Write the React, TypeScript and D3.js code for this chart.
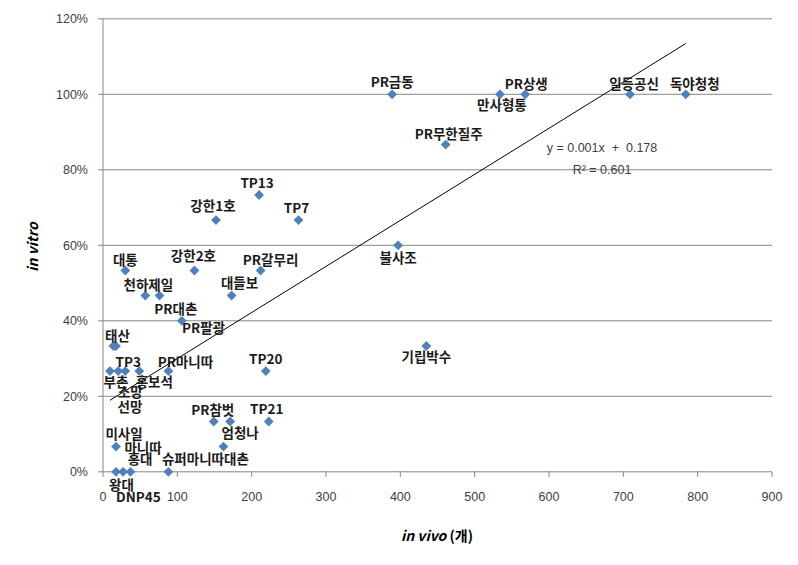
import React from "react";
import * as d3 from "d3";

// ---- data ----
const names = [
  "PR금동", "만사형통", "PR상생", "일등공신", "독야청청", "PR무한질주", "불사조", "기립박수",
  "TP20", "TP21", "PR참벗", "엄청나", "슈퍼마니따대촌", "DNP45", "대통", "강한2호", "PR갈무리",
  "천하제일", "PR팔광", "대들보", "PR대촌", "태산", "선망", "TP3", "부촌", "소망", "홍보석",
  "PR마니따", "미사일", "마니따", "홍대", "왕대", "강한1호", "TP13", "TP7",
];
const inVivo = [
  389, 534, 568, 709, 784, 461, 397, 435,
  219, 223, 149, 171, 162, 88, 30, 123, 212,
  57, 76, 173, 106, 14, 17.4, 30, 9.4, 20.6, 48.8,
  88, 17.5, 17.5, 27, 37, 152, 210, 263,
];
const inVitro = [
  1, 1, 1, 1, 1, 0.8667, 0.6, 0.3333,
  0.2667, 0.1333, 0.1333, 0.1333, 0.0667, 0, 0.5333, 0.5333, 0.5333,
  0.4667, 0.4667, 0.4667, 0.4, 0.3333, 0.3333, 0.2667, 0.2667, 0.2667, 0.2667,
  0.2667, 0.0667, 0, 0, 0, 0.6667, 0.7333, 0.6667,
];
const xTicks = [0, 100, 200, 300, 400, 500, 600, 700, 800, 900];
const yTicks = [0, 0.2, 0.4, 0.6, 0.8, 1.0, 1.2];
const trendSlope = 0.00122;
const trendIntercept = 0.178;
const equationText = "y = 0.001x  +  0.178";
const r2Text = "R² = 0.601";
const xTitleItalic = "in vivo";
const xTitleRest = " (개)";
const yTitle = "in vitro";

// ---- layout: label offsets relative to each marker (px) ----
const labelOffsets: Record<string, [number, number]> = {
  "PR금동": [0, -12], "만사형통": [2, 11], "PR상생": [1, -10], "일등공신": [4, -10],
  "독야청청": [9, -10], "PR무한질주": [3, -10], "불사조": [0, 13], "기립박수": [0, 11],
  "TP20": [0, -12], "TP21": [-2, -12], "PR참벗": [-1, -11], "엄청나": [10, 12],
  "슈퍼마니따대촌": [-18, 13], "DNP45": [-30, 25], "대통": [0, -10], "강한2호": [-1, -14],
  "PR갈무리": [10, -10], "천하제일": [3, -10], "PR팔광": [44, 33], "대들보": [8, -12],
  "PR대촌": [-6, -12], "태산": [4, -10], "선망": [14, 61], "TP3": [3, -9], "부촌": [6, 11],
  "소망": [12, 21], "홍보석": [15, 11], "PR마니따": [17, -9], "미사일": [8, -12],
  "마니따": [27, -24], "홍대": [17, -13], "왕대": [-9, 13], "강한1호": [-3, -14],
  "TP13": [-2, -12], "TP7": [-2, -12],
};

const W = 798;
const H = 565;

export default function App() {
  const x = d3.scaleLinear().domain([0, 900]).range([103, 772]);
  const y = d3.scaleLinear().domain([0, 1.2]).range([471.8, 18.8]);
  const pts = names.map((n, i) => ({ name: n, x: inVivo[i], y: inVitro[i] }));
  const diamond = d3.symbol().type(d3.symbolSquare).size(48)() as string;
  const xMin = d3.min(inVivo) as number;
  const xMax = d3.max(inVivo) as number;
  const trend = d3
    .line<number>()
    .x((v) => x(v))
    .y((v) => y(trendIntercept + trendSlope * v))([xMin, xMax]) as string;
  const grid = "#868686";
  const tickFont = "'Liberation Sans', Arial, sans-serif";
  const labelFont = "'Noto Sans CJK KR', 'Noto Sans', sans-serif";

  return (
    <svg
      width={W}
      height={H}
      style={{ position: "absolute", left: 0, top: 0, background: "#fff" }}
    >
      <rect x={0} y={0} width={W} height={H} fill="#fff" />
      {/* horizontal gridlines */}
      {yTicks.map((t) => (
        <line key={"g" + t} x1={x(0)} x2={x(900)} y1={y(t)} y2={y(t)} stroke={grid} strokeWidth={1} />
      ))}
      {/* y axis */}
      <line x1={x(0)} x2={x(0)} y1={y(0)} y2={y(1.2)} stroke={grid} strokeWidth={1} />
      {yTicks.map((t) => (
        <g key={"yt" + t}>
          <line x1={x(0) - 5} x2={x(0)} y1={y(t)} y2={y(t)} stroke={grid} />
          <text
            x={88}
            y={y(t)}
            dy="0.35em"
            textAnchor="end"
            fontFamily={tickFont}
            fontSize={12.5}
            fill="#404040"
          >
            {d3.format(".0%")(t)}
          </text>
        </g>
      ))}
      {/* x axis ticks */}
      {xTicks.map((t) => (
        <g key={"xt" + t}>
          <line x1={x(t)} x2={x(t)} y1={y(0)} y2={y(0) + 5} stroke={grid} />
          <text
            x={x(t)}
            y={497}
            dy="0.35em"
            textAnchor="middle"
            fontFamily={tickFont}
            fontSize={12.5}
            fill="#404040"
          >
            {t}
          </text>
        </g>
      ))}
      {/* trendline */}
      <path d={trend} stroke="#000" strokeWidth={1} fill="none" />
      {/* markers */}
      {pts.map((p, i) => (
        <path
          key={"m" + i}
          d={diamond}
          transform={`translate(${x(p.x)},${y(p.y)}) rotate(45)`}
          fill="#4F81BD"
        />
      ))}
      {/* labels */}
      {pts.map((p, i) => {
        const off = labelOffsets[p.name] || [0, -12];
        return (
          <text
            key={"l" + i}
            x={x(p.x) + off[0]}
            y={y(p.y) + off[1]}
            dy="0.35em"
            textAnchor="middle"
            fontFamily={labelFont}
            fontSize={13.5}
            fontWeight={700}
            fill="#1a1a1a"
          >
            {p.name}
          </text>
        );
      })}
      {/* equation */}
      <text x={602} y={148} dy="0.35em" textAnchor="middle" fontFamily={tickFont} fontSize={12.5} fill="#404040" style={{ whiteSpace: "pre" }}>
        {equationText}
      </text>
      <text x={602} y={170} dy="0.35em" textAnchor="middle" fontFamily={tickFont} fontSize={12.5} fill="#404040">
        {r2Text}
      </text>
      {/* axis titles */}
      <text x={437} y={536} dy="0.35em" textAnchor="middle" fontFamily={labelFont} fontSize={14} fontWeight={700} fill="#000">
        <tspan fontStyle="italic">{xTitleItalic}</tspan>
        <tspan style={{ whiteSpace: "pre" }}>{xTitleRest}</tspan>
      </text>
      <text
        transform={`translate(33,247) rotate(-90)`}
        dy="0.35em"
        textAnchor="middle"
        fontFamily={labelFont}
        fontSize={14}
        fontWeight={700}
        fontStyle="italic"
        fill="#000"
      >
        {yTitle}
      </text>
    </svg>
  );
}
